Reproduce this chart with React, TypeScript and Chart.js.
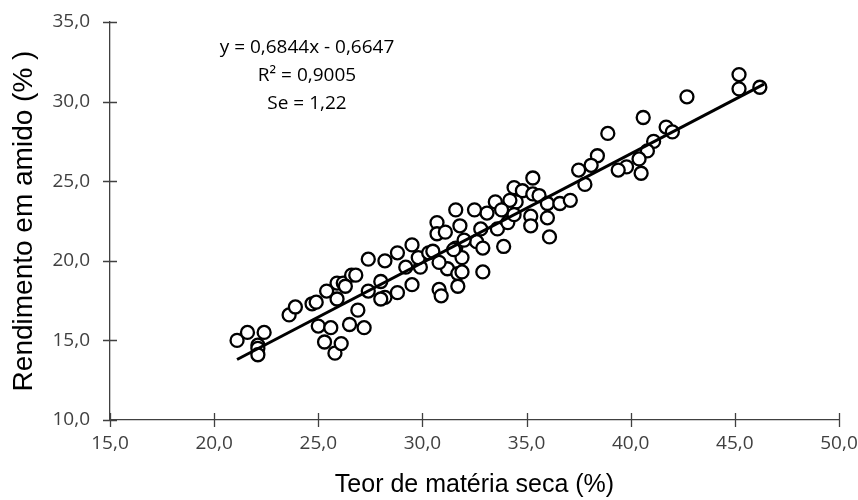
import React, { useEffect, useRef } from "react";
import { Chart, registerables } from "chart.js";

Chart.register(...registerables);

// Teor de matéria seca (%)
const drySolids: number[] = [
  21.1, 21.6, 22.4, 22.1, 22.1, 22.1, 23.6, 23.9, 24.7, 24.9,
  25.4, 25.9, 26.2, 25.9, 25.0, 25.6, 25.3, 25.8, 26.1, 26.5,
  27.2, 26.6, 26.8, 26.3, 26.9, 27.4, 27.4, 28.0, 28.2, 28.0,
  28.2, 28.8, 28.8, 29.5, 29.5, 29.2, 29.9, 29.8, 30.3, 30.7,
  30.7, 31.1, 31.6, 31.8, 31.6, 31.9, 31.2, 31.7, 31.7, 30.8,
  30.9, 30.8, 33.5, 35.3, 34.4, 34.8, 35.3, 35.6, 36.0, 36.6,
  37.1, 34.5, 34.2, 33.8, 33.1, 32.5, 32.8, 33.6, 35.2, 36.0,
  35.2, 34.1, 34.4, 32.6, 32.9, 33.9, 36.1, 32.0, 31.5, 32.9,
  31.9, 40.6, 38.9, 41.7, 41.1, 40.8, 40.4, 39.8, 39.4, 40.5,
  38.4, 38.1, 37.5, 37.8, 45.2, 45.2, 46.2, 42.7, 42.0, 30.5,
];

// Rendimento em amido (%)
const starchYield: number[] = [
  15.0, 15.5, 15.5, 14.7, 14.5, 14.1, 16.6, 17.1, 17.3, 17.4,
  18.1, 18.6, 18.6, 17.6, 15.9, 15.8, 14.9, 14.2, 14.8, 16.0,
  15.8, 19.1, 19.1, 18.4, 16.9, 20.1, 18.1, 18.7, 17.7, 17.6,
  20.0, 18.0, 20.5, 21.0, 18.5, 19.6, 19.6, 20.2, 20.5, 22.4,
  21.7, 21.8, 23.2, 22.2, 20.8, 20.2, 19.5, 19.2, 18.4, 18.2,
  17.8, 19.9, 23.7, 25.2, 24.6, 24.4, 24.2, 24.1, 23.6, 23.6,
  23.8, 23.7, 23.8, 23.2, 23.0, 23.2, 22.0, 22.0, 22.8, 22.7,
  22.2, 22.4, 22.9, 21.2, 20.8, 20.9, 21.5, 21.3, 20.7, 19.3,
  19.3, 29.0, 28.0, 28.4, 27.5, 26.9, 26.4, 25.9, 25.7, 25.5,
  26.6, 26.0, 25.7, 24.8, 31.7, 30.8, 30.9, 30.3, 28.1, 20.6,
];

// Trend line end points (x, y)
const trendX: number[] = [21.1, 46.4];
const trendY: number[] = [13.8, 31.1];

const xTicksRange = { min: 15, max: 50, step: 5 };
const yTicksRange = { min: 10, max: 35, step: 5 };

const annotationLines: string[] = [
  "y = 0,6844x - 0,6647",
  "R² = 0,9005",
  "Se = 1,22",
];

const fmt = (v: number | string) => Number(v).toFixed(1).replace(".", ",");

const crossTicks = {
  id: "crossTicks",
  afterDraw(chart: any) {
    const ctx = chart.ctx;
    const xs = chart.scales.x;
    const ys = chart.scales.y;
    ctx.save();
    ctx.strokeStyle = "#404040";
    ctx.lineWidth = 1.3;
    ctx.beginPath();
    for (const t of xs.ticks) {
      const px = Math.round(xs.getPixelForValue(t.value)) + 0.5;
      ctx.moveTo(px, ys.bottom - 7);
      ctx.lineTo(px, ys.bottom + 7);
    }
    for (const t of ys.ticks) {
      const py = Math.round(ys.getPixelForValue(t.value)) + 0.5;
      ctx.moveTo(xs.left - 7, py);
      ctx.lineTo(xs.left + 7, py);
    }
    ctx.stroke();

    // regression annotation
    ctx.fillStyle = "#000";
    ctx.font = '19px "Open Sans"';
    ctx.textAlign = "center";
    ctx.textBaseline = "middle";
    const cx = chart.chartArea.left + 197;
    annotationLines.forEach((s, i) => {
      ctx.fillText(s, cx, chart.chartArea.top + 26 + i * 28);
    });
    ctx.restore();
  },
};

export default function App() {
  const ref = useRef<HTMLCanvasElement | null>(null);

  useEffect(() => {
    if (!ref.current) return;
    const points = drySolids.map((x, i) => ({ x, y: starchYield[i] }));
    const trend = trendX.map((x, i) => ({ x, y: trendY[i] }));
    const tickFont = { family: '"Open Sans"', size: 19 };
    const chart = new Chart(ref.current, {
      type: "scatter",
      data: {
        datasets: [
          {
            type: "line",
            data: trend,
            borderColor: "#000",
            borderWidth: 3,
            pointRadius: 0,
            fill: false,
            order: 0,
          } as any,
          {
            data: points,
            pointRadius: 6.5,
            pointBorderWidth: 2.3,
            pointBorderColor: "#000",
            pointBackgroundColor: "#fff",
            order: 1,
          },
        ],
      },
      options: {
        animation: false,
        responsive: true,
        maintainAspectRatio: false,
        layout: { padding: { top: 22, right: 19, bottom: 0, left: 0 } },
        plugins: {
          legend: { display: false },
          tooltip: { enabled: false },
        },
        scales: {
          x: {
            type: "linear",
            min: xTicksRange.min,
            max: xTicksRange.max,
            grid: { display: false, drawTicks: false },
            border: { display: true, color: "#404040", width: 1.3 },
            ticks: {
              stepSize: xTicksRange.step,
              padding: 12,
              color: "#404040",
              font: tickFont,
              callback: (v: any) => fmt(v),
              maxRotation: 0,
            },
            title: {
              display: true,
              text: "Teor de matéria seca (%)",
              color: "#000",
              font: { family: '"Liberation Sans"', size: 25 },
              padding: { top: 0, bottom: 0 },
            },
            afterFit: (s: any) => {
              s.height = 80;
              s.paddingLeft = 0;
              s.paddingRight = 0;
            },
          },
          y: {
            type: "linear",
            min: yTicksRange.min,
            max: yTicksRange.max,
            grid: { display: false, drawTicks: false },
            border: { display: true, color: "#404040", width: 1.3 },
            ticks: {
              stepSize: yTicksRange.step,
              padding: 20,
              color: "#404040",
              font: tickFont,
              callback: (v: any) => fmt(v),
            },
            title: {
              display: true,
              text: "Rendimento em amido (% )",
              color: "#000",
              font: { family: '"Liberation Sans"', size: 28 },
              padding: { top: 7, bottom: 0 },
            },
            afterFit: (s: any) => {
              s.width = 110;
              s.paddingTop = 0;
              s.paddingBottom = 0;
            },
          },
        },
      },
      plugins: [crossTicks],
    });
    return () => chart.destroy();
  }, []);

  return (
    <div
      style={{
        position: "fixed",
        left: 0,
        top: 0,
        width: 858,
        height: 500,
        background: "#fff",
      }}
    >
      <canvas ref={ref} />
    </div>
  );
}
